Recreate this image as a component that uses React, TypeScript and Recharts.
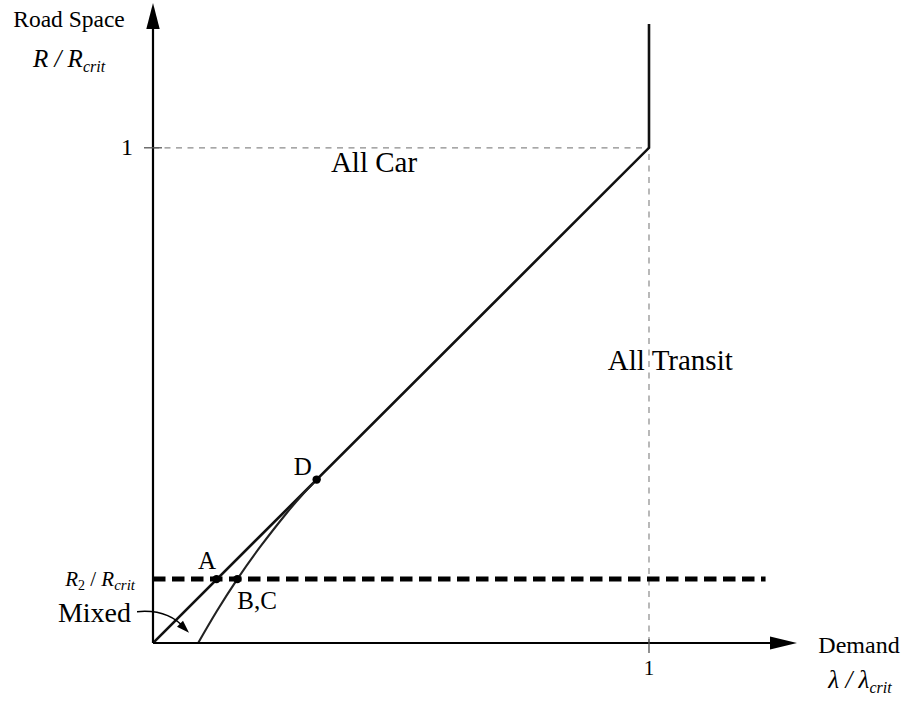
import React from 'react';
import { LineChart, Line, XAxis, YAxis, ReferenceLine, ReferenceDot } from 'recharts';

// boundary between "All Car" and "All Transit" regions
const boundaryX = [0, 1, 1];
const boundaryY = [0, 1, 1.25];
// curve bounding the mixed region
const mixedX = [0.091, 0.1285, 0.17, 0.2175, 0.27, 0.299, 0.33];
const mixedY = [0, 0.064, 0.129, 0.196, 0.263, 0.297, 0.33];
// R2 / Rcrit level
const r2Level = 0.129;
const pointNames = ['A', 'B,C', 'D'];
const pointX = [0.128, 0.17, 0.33];
const pointY = [0.129, 0.129, 0.33];
const xTicks = [1];
const yTicks = [1];

const boundaryData = boundaryX.map((x, i) => ({ x, y: boundaryY[i] }));
const mixedData = mixedX.map((x, i) => ({ x, y: mixedY[i] }));

const FONT = '"Liberation Serif", "Times New Roman", Times, serif';

const txt = (content: React.ReactNode, dx: number, dy: number, size: number, anchor: string, italic = false) =>
  (p: any) => (
    <text
      x={p.cx + dx}
      y={p.cy + dy}
      fontSize={size}
      fontFamily={FONT}
      fontStyle={italic ? 'italic' : 'normal'}
      textAnchor={anchor}
      fill="#000"
    >
      {content}
    </text>
  );

export default function App() {
  return (
    <div style={{ position: 'absolute', left: 0, top: 0, background: '#fff' }}>
      <LineChart
        width={905}
        height={702}
        margin={{ top: 24, right: 132, bottom: 0, left: 0 }}
      >
        <XAxis
          type="number"
          dataKey="x"
          domain={[0, 1.25]}
          ticks={xTicks}
          allowDataOverflow
          tick={false}
          tickLine={false}
          height={59}
          axisLine={{ stroke: '#000', strokeWidth: 2.2 }}
        />
        <YAxis
          type="number"
          dataKey="y"
          domain={[0, 1.25]}
          ticks={yTicks}
          allowDataOverflow
          tick={false}
          tickLine={false}
          width={153}
          axisLine={{ stroke: '#000', strokeWidth: 2.2 }}
        />

        {/* grey guide lines */}
        <ReferenceLine
          segment={[{ x: 0, y: yTicks[0] }, { x: xTicks[0], y: yTicks[0] }]}
          stroke="#8a8a8a"
          strokeWidth={1.2}
          strokeDasharray="6 5.5"
          ifOverflow="visible"
        />
        <ReferenceLine
          segment={[{ x: xTicks[0], y: 0 }, { x: xTicks[0], y: yTicks[0] }]}
          stroke="#8a8a8a"
          strokeWidth={1.2}
          strokeDasharray="6 5.5"
          ifOverflow="visible"
        />

        {/* R2 level */}
        <ReferenceLine
          segment={[{ x: 0, y: r2Level }, { x: 1.235, y: r2Level }]}
          stroke="#000"
          strokeWidth={5}
          strokeDasharray="12.5 6.5"
          ifOverflow="visible"
        />

        <Line
          data={boundaryData}
          dataKey="y"
          type="linear"
          stroke="#111"
          strokeWidth={2.6}
          dot={false}
          activeDot={false}
          isAnimationActive={false}
        />
        <Line
          data={mixedData}
          dataKey="y"
          type="natural"
          stroke="#222"
          strokeWidth={2.1}
          dot={false}
          activeDot={false}
          isAnimationActive={false}
        />

        {/* points */}
        {pointX.map((x, i) => (
          <ReferenceDot key={pointNames[i]} x={x} y={pointY[i]} r={4.2} fill="#000" stroke="none" ifOverflow="visible" />
        ))}

        {/* axis arrowheads */}
        <ReferenceDot
          x={1.244}
          y={0}
          ifOverflow="visible"
          shape={(p: any) => (
            <polygon points={`${p.cx},${p.cy - 6.5} ${p.cx + 27},${p.cy} ${p.cx},${p.cy + 6.5}`} fill="#000" />
          )}
        />
        <ReferenceDot
          x={0}
          y={1.24}
          ifOverflow="visible"
          shape={(p: any) => (
            <polygon points={`${p.cx - 6.7},${p.cy} ${p.cx},${p.cy - 26} ${p.cx + 6.7},${p.cy}`} fill="#000" />
          )}
        />

        {/* ticks */}
        <ReferenceDot
          x={xTicks[0]}
          y={0}
          ifOverflow="visible"
          shape={(p: any) => (
            <g>
              <line x1={p.cx} x2={p.cx} y1={p.cy - 4} y2={p.cy + 10} stroke="#555" strokeWidth={1.3} />
              <text x={p.cx} y={p.cy + 32} fontSize={21} fontFamily={FONT} textAnchor="middle" fill="#000">
                {String(xTicks[0])}
              </text>
            </g>
          )}
        />
        <ReferenceDot
          x={0}
          y={yTicks[0]}
          ifOverflow="visible"
          shape={(p: any) => (
            <g>
              <line x1={p.cx - 9} x2={p.cx + 9} y1={p.cy} y2={p.cy} stroke="#555" strokeWidth={1.3} />
              <text x={p.cx - 20} y={p.cy + 7} fontSize={24} fontFamily={FONT} textAnchor="end" fill="#000">
                {String(yTicks[0])}
              </text>
            </g>
          )}
        />

        {/* point labels */}
        <ReferenceDot x={pointX[0]} y={pointY[0]} ifOverflow="visible"
          shape={txt(pointNames[0], -9.5, -10, 25, 'middle')} />
        <ReferenceDot x={pointX[1]} y={pointY[1]} ifOverflow="visible"
          shape={txt(pointNames[1], 0, 30, 25, 'start')} />
        <ReferenceDot x={pointX[2]} y={pointY[2]} ifOverflow="visible"
          shape={txt(pointNames[2], -14, -5, 25, 'middle')} />

        {/* region labels */}
        <ReferenceDot x={0.4456} y={0.952} ifOverflow="visible"
          shape={txt('All Car', 0, 0, 29, 'middle')} />
        <ReferenceDot x={1.043} y={0.552} ifOverflow="visible"
          shape={txt('All Transit', 0, 0, 29, 'middle')} />

        {/* Mixed label with arrow */}
        <ReferenceDot
          x={0.0726}
          y={0.0208}
          ifOverflow="visible"
          shape={(p: any) => (
            <g>
              <path
                d={`M${p.cx - 52},${p.cy - 21} C${p.cx - 30},${p.cy - 23} ${p.cx - 14},${p.cy - 16} ${p.cx - 4},${p.cy - 4}`}
                fill="none"
                stroke="#000"
                strokeWidth={1.5}
              />
              <polygon
                points={`${p.cx},${p.cy} ${p.cx - 12},${p.cy - 6} ${p.cx - 6},${p.cy - 12}`}
                fill="#000"
              />
              <text x={p.cx - 58} y={p.cy - 11} fontSize={28} fontFamily={FONT} textAnchor="end" fill="#000">
                Mixed
              </text>
            </g>
          )}
        />

        {/* R2 / Rcrit label */}
        <ReferenceDot x={0} y={r2Level} ifOverflow="visible"
          shape={txt(
            <>
              <tspan fontStyle="italic">R</tspan>
              <tspan fontSize={14} dy={4}>2</tspan>
              <tspan dy={-4}> / </tspan>
              <tspan fontStyle="italic">R</tspan>
              <tspan fontStyle="italic" fontSize={15} dy={4}>crit</tspan>
            </>,
            -18, 7, 21, 'end')} />

        {/* axis titles */}
        <ReferenceDot x={0} y={1.25} ifOverflow="visible"
          shape={txt('Road Space', -84, 3, 23.5, 'middle')} />
        <ReferenceDot x={0} y={1.25} ifOverflow="visible"
          shape={txt(
            <>
              <tspan>R / R</tspan>
              <tspan fontSize={16} dy={5}>crit</tspan>
            </>,
            -84, 43, 25, 'middle', true)} />
        <ReferenceDot x={1.25} y={0} ifOverflow="visible"
          shape={txt('Demand', 86, 10, 24, 'middle')} />
        <ReferenceDot x={1.25} y={0} ifOverflow="visible"
          shape={txt(
            <>
              <tspan>λ / λ</tspan>
              <tspan fontSize={16} dy={5}>crit</tspan>
            </>,
            87, 45, 25, 'middle', true)} />
      </LineChart>
    </div>
  );
}
